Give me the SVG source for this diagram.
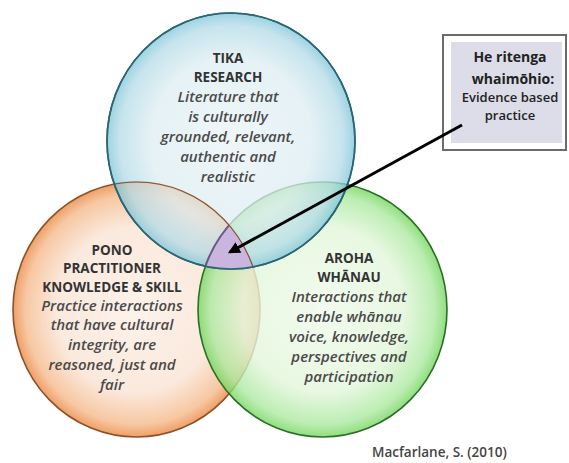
<svg xmlns="http://www.w3.org/2000/svg" width="569" height="463" viewBox="0 0 569 463">
<defs>
<style>
.h{font-family:"Open Sans","Liberation Sans",sans-serif;font-weight:bold;font-size:13.5px;fill:#333;text-anchor:middle}
.t{font-family:"Open Sans","Liberation Sans",sans-serif;font-style:italic;font-weight:600;font-size:15px;fill:#4a4a4a;text-anchor:middle}
.b{font-family:"Open Sans","Liberation Sans",sans-serif;text-anchor:middle;fill:#222}
.cite{font-family:"Open Sans","Liberation Sans",sans-serif;font-size:13.5px;font-weight:600;fill:#444}
</style>
<radialGradient id="gBlue" cx="0.5" cy="0.5" r="0.5">
<stop offset="0" stop-color="#e9f3f6"/>
<stop offset="0.65" stop-color="#ddedf2"/>
<stop offset="0.9" stop-color="#b3dbe7"/>
<stop offset="1" stop-color="#7cc4d8"/>
</radialGradient>
<radialGradient id="gOrange" cx="0.5" cy="0.5" r="0.5">
<stop offset="0" stop-color="#fdf2ea"/>
<stop offset="0.65" stop-color="#fbe9dd"/>
<stop offset="0.9" stop-color="#f7c8a3"/>
<stop offset="1" stop-color="#ef9f66"/>
</radialGradient>
<radialGradient id="gGreen" cx="0.5" cy="0.5" r="0.5">
<stop offset="0" stop-color="#eefaea"/>
<stop offset="0.65" stop-color="#e2f6da"/>
<stop offset="0.9" stop-color="#ace9a0"/>
<stop offset="1" stop-color="#74d65e"/>
</radialGradient>
<clipPath id="cBlue"><ellipse cx="231" cy="141" rx="124" ry="128"/></clipPath>
<clipPath id="cOrange"><ellipse cx="136.5" cy="309.5" rx="123.5" ry="127.5"/></clipPath>
<marker id="arr" viewBox="0 0 10 10" refX="8" refY="5" markerWidth="4" markerHeight="4" orient="auto">
<path d="M0,0 L10,5 L0,10 z" fill="#000"/>
</marker>
</defs>
<rect width="569" height="463" fill="#fff"/>

<g id="pono">
<ellipse cx="136.5" cy="309.5" rx="123.5" ry="127.5" fill="url(#gOrange)" stroke="#8e5028" stroke-width="1.6"/>
</g>
<g id="aroha">
<ellipse cx="322.5" cy="309.5" rx="124.5" ry="127.5" fill="url(#gGreen)" fill-opacity="0.8" stroke="#2a6f26" stroke-width="1.6"/>
</g>
<g id="tika">
<ellipse cx="231" cy="141" rx="124" ry="128" fill="url(#gBlue)" fill-opacity="0.75" stroke="#2a6676" stroke-width="1.6"/>
</g>
<g id="overlap">
<g clip-path="url(#cBlue)"><g clip-path="url(#cOrange)">
<ellipse cx="322.5" cy="309.5" rx="124.5" ry="127.5" fill="#c9b5de" stroke="#6a5a80" stroke-width="2"/>
</g></g>
<ellipse cx="136.5" cy="309.5" rx="123.5" ry="127.5" fill="none" stroke="#8e5028" stroke-width="1.2" clip-path="url(#cBlue)"/>
<ellipse cx="231" cy="141" rx="124" ry="128" fill="none" stroke="#2a6676" stroke-width="1.6"/>
</g>

<g id="tika-text">
<text class="h" x="228" y="63">TIKA</text>
<text class="h" x="228" y="82">RESEARCH</text>
<text class="t" x="228" y="102">Literature that</text>
<text class="t" x="228" y="122">is culturally</text>
<text class="t" x="228" y="142">grounded, relevant,</text>
<text class="t" x="228" y="162">authentic and</text>
<text class="t" x="228" y="182">realistic</text>
</g>
<g id="pono-text">
<text class="h" x="112" y="255">PONO</text>
<text class="h" x="112" y="273">PRACTITIONER</text>
<text class="h" x="112" y="292">KNOWLEDGE &amp; SKILL</text>
<text class="t" x="112" y="311">Practice interactions</text>
<text class="t" x="112" y="330">that have cultural</text>
<text class="t" x="112" y="350">integrity, are</text>
<text class="t" x="112" y="370">reasoned, just and</text>
<text class="t" x="112" y="390">fair</text>
</g>
<g id="aroha-text">
<text class="h" x="349" y="263">AROHA</text>
<text class="h" x="349" y="282">WHĀNAU</text>
<text class="t" x="349" y="302">Interactions that</text>
<text class="t" x="349" y="322">enable whānau</text>
<text class="t" x="349" y="342">voice, knowledge,</text>
<text class="t" x="349" y="362">perspectives and</text>
<text class="t" x="349" y="382">participation</text>
</g>

<g id="callout">
<rect x="443" y="35" width="123" height="115" fill="#fff" stroke="#6b6b6b" stroke-width="2"/>
<rect x="451" y="42" width="111" height="101" fill="#dcdde8"/>
<text class="b" x="510" y="62" font-size="14" font-weight="bold">He ritenga</text>
<text class="b" x="513" y="84" font-size="14" font-weight="bold">whaimōhio:</text>
<text class="b" x="510" y="102" font-size="13" font-weight="600">Evidence based</text>
<text class="b" x="510" y="120" font-size="13" font-weight="600">practice</text>
</g>

<g id="connectors">
<line x1="462" y1="125" x2="230" y2="252" stroke="#000" stroke-width="3" marker-end="url(#arr)"/>
</g>

<text class="cite" x="372" y="457">Macfarlane, S. (2010)</text>
</svg>
